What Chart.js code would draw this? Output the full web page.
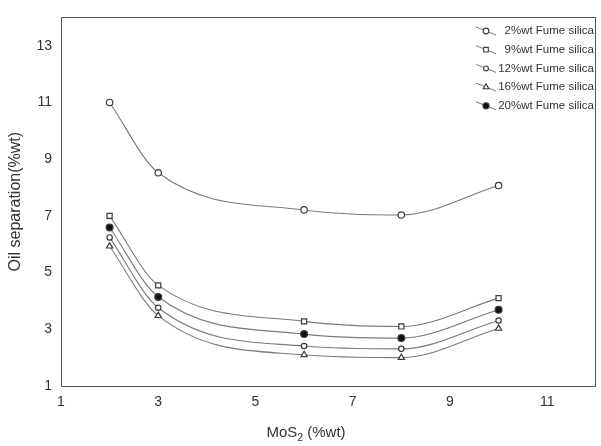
<!DOCTYPE html>
<html>
<head>
<meta charset="utf-8">
<script src="https://cdn.jsdelivr.net/npm/chart.js@4/dist/chart.umd.min.js"></script>
<style>
html, body { margin: 0; padding: 0; background: #fff; }
#wrap { width: 601px; height: 446px; }
</style>
</head>
<body>
<div id="wrap"><canvas id="oilChart" width="601" height="446"></canvas></div>
<script>
// MoS2 content (%wt) and oil separation (%wt) for each fume silica level
const mos2 = [2, 3, 6, 8, 10];
const silica2 = [11.0, 8.52, 7.21, 7.03, 8.07];
const silica9 = [7.0, 4.55, 3.28, 3.10, 4.10];
const silica12 = [6.24, 3.76, 2.41, 2.31, 3.31];
const silica16 = [5.93, 3.48, 2.10, 2.00, 3.03];
const silica20 = [6.59, 4.14, 2.83, 2.69, 3.69];
const seriesLabels = ['2%wt Fume silica', '9%wt Fume silica', '12%wt Fume silica', '16%wt Fume silica', '20%wt Fume silica'];
const xTicks = [1, 3, 5, 7, 9, 11];
const yTicks = [1, 3, 5, 7, 9, 11, 13];

const lineColor = '#7a7a7a';
const markColor = '#3a3a3a';
const fontFamily = '"Liberation Sans", Arial, sans-serif';

function makeSet(label, values, style, radius, filled) {
    return {
        label: label,
        data: mos2.map((x, i) => ({ x: x, y: values[i] })),
        showLine: true,
        cubicInterpolationMode: 'monotone',
        borderColor: lineColor,
        borderWidth: 1.1,
        pointStyle: style,
        pointRadius: radius,
        pointBorderWidth: 1.2,
        pointBorderColor: markColor,
        backgroundColor: filled ? '#111' : '#fff',
        pointBackgroundColor: filled ? '#111' : '#fff'
    };
}

const framePlugin = {
    id: 'frame',
    afterDraw(chart) {
        const ctx = chart.ctx;
        const area = chart.chartArea;
        ctx.save();
        ctx.strokeStyle = '#555';
        ctx.lineWidth = 1;
        ctx.strokeRect(Math.round(area.left) + 0.5, Math.round(area.top) + 0.5,
            Math.round(area.right - area.left) - 1, Math.round(area.bottom - area.top));

        // legend, top right inside the frame
        ctx.font = '11.5px ' + fontFamily;
        ctx.textBaseline = 'middle';
        ctx.textAlign = 'right';
        chart.data.datasets.forEach((ds, i) => {
            const y = 31 + i * 18.7;
            ctx.strokeStyle = lineColor;
            ctx.lineWidth = 1;
            ctx.beginPath();
            ctx.moveTo(476, y - 4);
            ctx.lineTo(496, y + 4);
            ctx.stroke();
            ctx.strokeStyle = markColor;
            ctx.fillStyle = ds.pointBackgroundColor;
            ctx.lineWidth = 1.1;
            Chart.helpers.drawPoint(ctx, {
                pointStyle: ds.pointStyle, radius: ds.pointRadius * 0.9, borderWidth: 1.1, rotation: 0
            }, 486, y);
            ctx.fillStyle = '#333';
            ctx.fillText(ds.label, 594, y);
        });

        // x axis title with subscript
        ctx.fillStyle = '#333';
        ctx.textAlign = 'left';
        ctx.textBaseline = 'alphabetic';
        ctx.font = '15px ' + fontFamily;
        const w1 = ctx.measureText('MoS').width;
        ctx.font = '10.5px ' + fontFamily;
        const w2 = ctx.measureText('2').width;
        ctx.font = '15px ' + fontFamily;
        const w3 = ctx.measureText(' (%wt)').width;
        let x = 306 - (w1 + w2 + w3) / 2;
        const base = 437;
        ctx.fillText('MoS', x, base);
        x += w1;
        ctx.font = '10.5px ' + fontFamily;
        ctx.fillText('2', x, base + 4);
        x += w2;
        ctx.font = '15px ' + fontFamily;
        ctx.fillText(' (%wt)', x, base);
        ctx.restore();
    }
};

const ctx = document.getElementById('oilChart').getContext('2d');
new Chart(ctx, {
    type: 'scatter',
    data: {
        datasets: [
            makeSet(seriesLabels[0], silica2, 'circle', 3.2, false),
            makeSet(seriesLabels[1], silica9, 'rect', 3.6, false),
            makeSet(seriesLabels[2], silica12, 'circle', 2.7, false),
            makeSet(seriesLabels[3], silica16, 'triangle', 3.6, false),
            makeSet(seriesLabels[4], silica20, 'circle', 3.4, true)
        ]
    },
    options: {
        responsive: false,
        animation: false,
        devicePixelRatio: 1,
        layout: { padding: { top: 8, right: 3, left: 0, bottom: 0 } },
        plugins: {
            legend: { display: false },
            tooltip: { enabled: false }
        },
        scales: {
            x: {
                type: 'linear',
                min: 1,
                max: 12,
                afterBuildTicks: s => { s.ticks = xTicks.map(v => ({ value: v })); },
                afterFit: s => { s.height = 60; },
                grid: { display: false, drawTicks: false },
                border: { display: false },
                ticks: {
                    color: '#333',
                    padding: 8,
                    font: { size: 14, family: fontFamily }
                }
            },
            y: {
                min: 1,
                max: 14,
                afterBuildTicks: s => { s.ticks = yTicks.map(v => ({ value: v })); },
                afterFit: s => { s.width = 61; },
                grid: { display: false, drawTicks: false },
                border: { display: false },
                ticks: {
                    color: '#333',
                    padding: 9,
                    font: { size: 14, family: fontFamily }
                },
                title: {
                    display: true,
                    text: 'Oil separation(%wt)',
                    color: '#333',
                    padding: { top: 6, bottom: 0 },
                    font: { size: 16, family: fontFamily }
                }
            }
        }
    },
    plugins: [framePlugin]
});
</script>
</body>
</html>
